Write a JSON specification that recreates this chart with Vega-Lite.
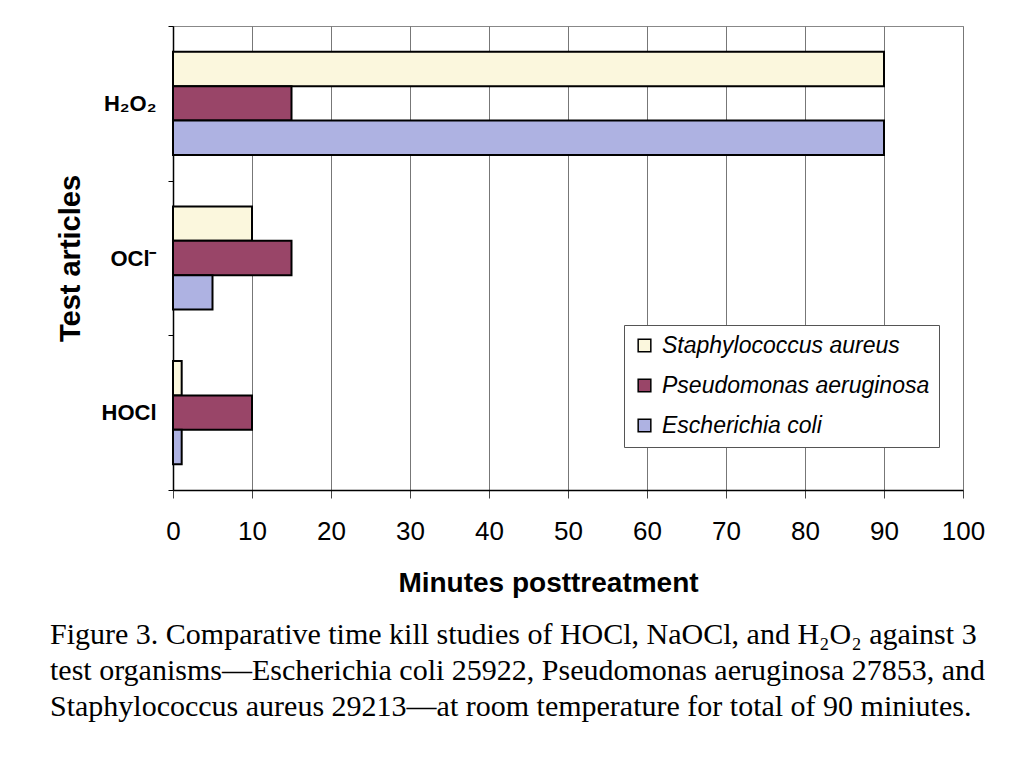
{
  "$schema": "https://vega.github.io/schema/vega-lite/v6.json",
  "autosize": {"type": "none"},
  "width": 790,
  "height": 464,
  "padding": {"left": 173, "top": 26, "right": 61, "bottom": 279},
  "background": "white",
  "title": {
    "text": [
      "Figure 3.  Comparative time kill studies of HOCl, NaOCl, and H₂O₂ against 3",
      "test organisms—Escherichia coli 25922, Pseudomonas aeruginosa 27853, and",
      "Staphylococcus aureus 29213—at room temperature for total of 90 miniutes."
    ],
    "orient": "bottom",
    "anchor": "start",
    "frame": "group",
    "dx": -123,
    "offset": 23,
    "font": "Liberation Serif",
    "fontSize": 30,
    "fontWeight": "normal",
    "lineHeight": 36,
    "color": "black"
  },
  "data": {
    "values": [
      {"article": "H₂O₂", "organism": "Staphylococcus aureus", "minutes": 90},
      {"article": "H₂O₂", "organism": "Pseudomonas aeruginosa", "minutes": 15},
      {"article": "H₂O₂", "organism": "Escherichia coli", "minutes": 90},
      {"article": "OCl⁻", "organism": "Staphylococcus aureus", "minutes": 10},
      {"article": "OCl⁻", "organism": "Pseudomonas aeruginosa", "minutes": 15},
      {"article": "OCl⁻", "organism": "Escherichia coli", "minutes": 5},
      {"article": "HOCl", "organism": "Staphylococcus aureus", "minutes": 1.1},
      {"article": "HOCl", "organism": "Pseudomonas aeruginosa", "minutes": 10},
      {"article": "HOCl", "organism": "Escherichia coli", "minutes": 1.1}
    ]
  },
  "mark": {"type": "bar", "stroke": "black", "strokeWidth": 2},
  "encoding": {
    "y": {
      "field": "article",
      "type": "nominal",
      "sort": ["H₂O₂", "OCl⁻", "HOCl"],
      "scale": {"paddingInner": 0, "paddingOuter": 0},
      "axis": {
        "title": "Test articles",
        "titleFont": "Liberation Sans",
        "titleFontSize": 29,
        "titleFontWeight": "bold",
        "titleColor": "black",
        "titlePadding": 16,
        "labelFont": "Liberation Sans",
        "labelFontSize": 22,
        "labelFontWeight": "bold",
        "labelColor": "black",
        "labelPadding": 12,
        "tickBand": "extent",
        "tickSize": 5,
        "tickColor": "black",
        "domainColor": "black",
        "domainWidth": 1.5,
        "grid": false
      }
    },
    "yOffset": {
      "field": "organism",
      "type": "nominal",
      "sort": ["Staphylococcus aureus", "Pseudomonas aeruginosa", "Escherichia coli"],
      "scale": {"paddingInner": 0, "paddingOuter": 0.75}
    },
    "x": {
      "field": "minutes",
      "type": "quantitative",
      "scale": {"domain": [0, 100], "nice": false},
      "axis": {
        "title": "Minutes posttreatment",
        "values": [0, 10, 20, 30, 40, 50, 60, 70, 80, 90, 100],
        "titleFont": "Liberation Sans",
        "titleFontSize": 28,
        "titleFontWeight": "bold",
        "titleColor": "black",
        "titlePadding": 25,
        "titleX": 375,
        "labelFont": "Liberation Sans",
        "labelFontSize": 26,
        "labelColor": "black",
        "labelPadding": 20,
        "labelFlush": false,
        "labelOverlap": false,
        "tickSize": 8,
        "tickColor": "#444",
        "domainColor": "black",
        "domainWidth": 1.5,
        "grid": true,
        "gridColor": "#777",
        "gridWidth": 1
      }
    },
    "color": {
      "field": "organism",
      "type": "nominal",
      "scale": {
        "domain": ["Staphylococcus aureus", "Pseudomonas aeruginosa", "Escherichia coli"],
        "range": ["#FBF7DD", "#994568", "#AEB2E2"]
      },
      "legend": {
        "title": null,
        "orient": "none",
        "legendX": 451,
        "legendY": 299,
        "symbolType": "square",
        "symbolSize": 160,
        "symbolStrokeColor": "black",
        "symbolStrokeWidth": 1.5,
        "symbolOpacity": 1,
        "labelFont": "Liberation Sans",
        "labelFontSize": 23,
        "labelFontStyle": "italic",
        "labelColor": "black",
        "labelLimit": 400,
        "labelOffset": 6,
        "rowPadding": 16,
        "padding": 9,
        "fillColor": "white",
        "strokeColor": "#555"
      }
    }
  },
  "config": {
    "view": {"stroke": "#888", "strokeWidth": 1}
  }
}
